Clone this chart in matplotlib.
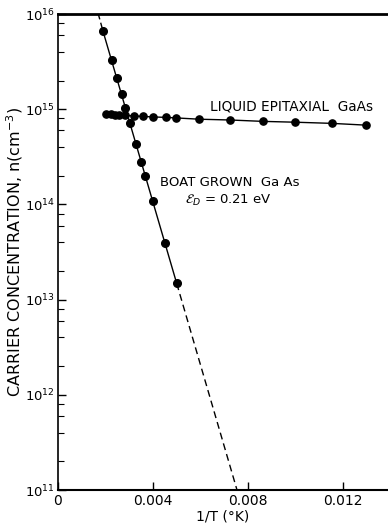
import numpy as np
import matplotlib as mpl
mpl.use("Agg")
import matplotlib.pyplot as plt
from matplotlib.ticker import LogLocator, NullFormatter, FixedLocator

# ---- data ----
# boat grown GaAs (measured points)
boat_x = [0.001895, 0.002261, 0.002472, 0.002674, 0.002842, 0.003044,
          0.003293, 0.003503, 0.003676, 0.004000, 0.004505, 0.004998]
boat_n = [6.6e15, 3.26e15, 2.11e15, 1.44e15, 1.04e15, 7.2e14,
          4.3e14, 2.8e14, 2.0e14, 1.08e14, 3.9e13, 1.48e13]

# fitted activation line (E_D = 0.21 eV): top end, solid part, bottom end
fit_top = (0.001697, 1e16)
fit_solid_x = [0.001895, 0.004998]
fit_solid_n = [6.6e15, 1.48e13]
fit_bot = (0.007537, 1e11)

# liquid epitaxial GaAs
liq_x = [0.002021, 0.002219, 0.002400, 0.002581, 0.002821, 0.003213,
         0.003566, 0.003987, 0.004547, 0.004968, 0.005949, 0.007255,
         0.008619, 0.009992, 0.011524, 0.012968]
liq_n = [9.0e14, 8.9e14, 8.75e14, 8.7e14, 8.6e14, 8.5e14,
         8.4e14, 8.3e14, 8.2e14, 8.1e14, 7.85e14, 7.7e14,
         7.45e14, 7.3e14, 7.1e14, 6.8e14]

xticks = [0, 0.004, 0.008, 0.012]
xtick_labels = ["0", "0.004", "0.008", "0.012"]
yticks = [1e11, 1e12, 1e13, 1e14, 1e15, 1e16]

# ---- figure ----
mpl.rcParams.update({"font.family": "DejaVu Sans", "mathtext.fontset": "dejavusans"})
fig = plt.figure(figsize=(3.88, 5.31), dpi=100)
ax = fig.add_axes([58 / 388, 41 / 531, 330 / 388, 476 / 531])

# fit line: dashed ends, solid middle
ax.plot([fit_top[0], fit_solid_x[0]], [fit_top[1], fit_solid_n[0]],
        color="black", lw=1.0, ls=(0, (4, 2.5)))
ax.plot(fit_solid_x, fit_solid_n, color="black", lw=1.0)
ax.plot([fit_solid_x[1], fit_bot[0]], [fit_solid_n[1], fit_bot[1]],
        color="black", lw=1.0, ls=(0, (5, 3)))
ax.plot(boat_x, boat_n, ls="none", marker="o", ms=5.5, color="black")

ax.plot(liq_x, liq_n, color="black", lw=1.0, marker="o", ms=5.2)

ax.set_yscale("log")
ax.set_xlim(0, 330 / 23750)
ax.set_ylim(1e11, 1e16)

ax.yaxis.set_major_locator(FixedLocator(yticks))
ax.set_yticklabels([r"$10^{%d}$" % int(np.log10(v)) for v in yticks], fontsize=9.5)
ax.yaxis.set_minor_locator(LogLocator(base=10, subs=[2, 4, 6, 8]))
ax.yaxis.set_minor_formatter(NullFormatter())
ax.set_xticks(xticks)
ax.set_xticklabels(xtick_labels, fontsize=10)
ax.tick_params(axis="both", which="major", direction="in", length=6, width=1, pad=3)
ax.tick_params(axis="y", which="minor", direction="in", length=4, width=0.8)
ax.tick_params(axis="y", which="major", pad=2)

ax.spines["right"].set_visible(False)
ax.spines["top"].set_linewidth(2.0)
ax.spines["bottom"].set_linewidth(1.5)
ax.spines["left"].set_linewidth(1.2)

ax.set_xlabel("1/T (°K)", fontsize=10, labelpad=1)
ax.set_ylabel(r"CARRIER CONCENTRATION, n(cm$^{-3}$)", fontsize=11.5)
ax.yaxis.set_label_coords(-0.1, 0.5)

ax.text(0.0064, 1.08e15, "LIQUID EPITAXIAL  GaAs", fontsize=9.8, ha="left", va="center")
ax.text(0.0043, 1.68e14, "BOAT GROWN  Ga As", fontsize=9.5, ha="left", va="center")
ax.text(0.00716, 1.11e14, r"$\mathcal{E}_D$ = 0.21 eV", fontsize=9.5, ha="center", va="center")

fig.savefig("out.png", dpi=100)
